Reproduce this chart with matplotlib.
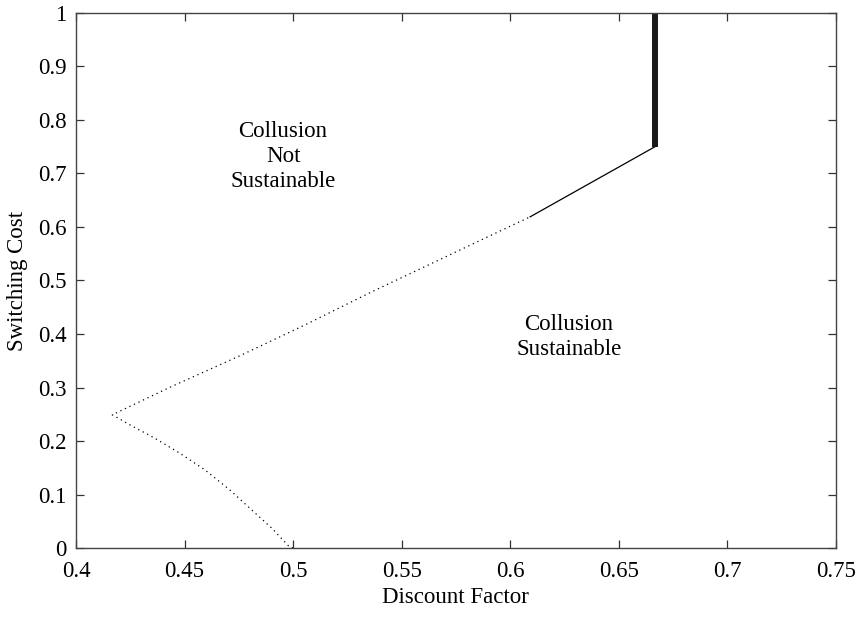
import matplotlib
matplotlib.use("Agg")
import matplotlib.pyplot as plt

plt.rcParams['font.family'] = ['Liberation Serif', 'DejaVu Serif']

# Dotted boundary (lower branch then upper branch)
dotted_x = [0.5, 0.4979, 0.4902, 0.4810, 0.4710, 0.4594, 0.4479, 0.4364, 0.4249, 0.4167,
            0.4441, 0.4748, 0.5055, 0.5363, 0.5670, 0.5977, 0.6092]
dotted_y = [0.0, 0.004, 0.037, 0.071, 0.108, 0.146, 0.177, 0.205, 0.230, 0.249,
            0.302, 0.358, 0.417, 0.479, 0.538, 0.597, 0.619]
# Thin solid segment
solid_x = [0.6092, 0.6667]
solid_y = [0.619, 0.750]
# Thick vertical segment
thick_x = [0.6667, 0.6667]
thick_y = [0.750, 1.0]

xticks = [0.4, 0.45, 0.5, 0.55, 0.6, 0.65, 0.7, 0.75]
xticklabels = ['0.4', '0.45', '0.5', '0.55', '0.6', '0.65', '0.7', '0.75']
yticks = [0, 0.1, 0.2, 0.3, 0.4, 0.5, 0.6, 0.7, 0.8, 0.9, 1]
yticklabels = ['0', '0.1', '0.2', '0.3', '0.4', '0.5', '0.6', '0.7', '0.8', '0.9', '1']

FS = 16.5

fig = plt.figure(figsize=(8.59, 6.17), dpi=100)
ax = fig.add_axes([0.0885, 0.1118, 0.8845, 0.8672])

ax.plot(dotted_x, dotted_y, color='black', linewidth=0.9, linestyle=(0, (1, 3)))
ax.plot(solid_x, solid_y, color='black', linewidth=0.9)
ax.plot(thick_x, thick_y, color='#1a1a1a', linewidth=4.3, solid_capstyle='butt')

ax.set_xlim(0.4, 0.75)
ax.set_ylim(0, 1)
ax.set_xticks(xticks)
ax.set_xticklabels(xticklabels)
ax.set_yticks(yticks)
ax.set_yticklabels(yticklabels)
ax.tick_params(direction='in', top=True, right=True, length=5.5, width=0.9,
               labelsize=FS, color='#333333')
ax.tick_params(axis='x', pad=9)
ax.tick_params(axis='y', pad=7)
for s in ax.spines.values():
    s.set_linewidth(1.0)
    s.set_color('#444444')

ax.set_xlabel('Discount Factor', fontsize=FS, labelpad=4)
ax.set_ylabel('Switching Cost', fontsize=FS, labelpad=7)

ax.text(0.4954, 0.731, 'Collusion\nNot\nSustainable', ha='center', va='center',
        fontsize=FS, linespacing=1.25)
ax.text(0.627, 0.394, 'Collusion\nSustainable', ha='center', va='center',
        fontsize=FS, linespacing=1.25)

fig.savefig('out.png', dpi=100)
